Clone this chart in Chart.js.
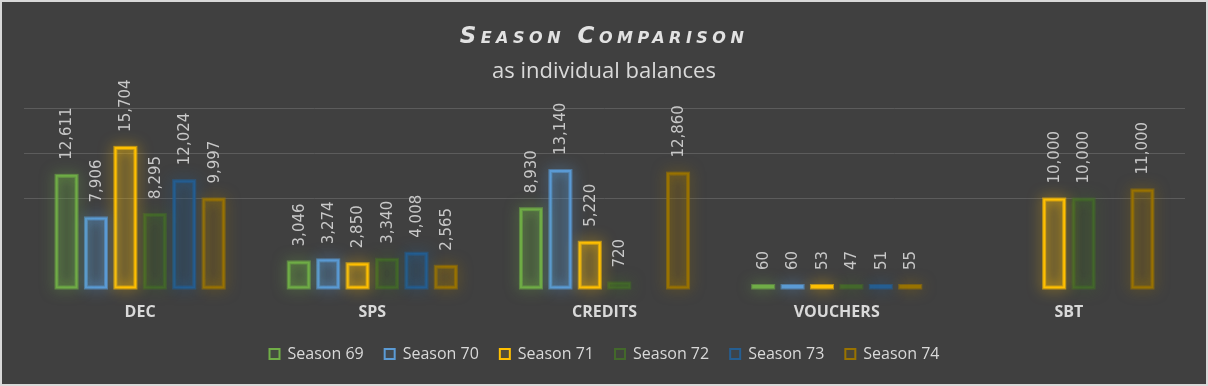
<!DOCTYPE html>
<html>
<head>
<meta charset="utf-8">
<script src="https://cdn.jsdelivr.net/npm/chart.js@4/dist/chart.umd.min.js"></script>
<style>
	body { margin: 0; background: #d9d9d9; }
	#wrap { position: absolute; left: 2px; top: 2px; width: 1204px; height: 382px; background: #404040; }
	#title { position: absolute; left: 0; width: 100%; top: 20px; text-align: center; color: #e2e2e2;
		font: italic bold small-caps 23px "DejaVu Sans"; letter-spacing: 4.5px; }
	#subtitle { position: absolute; left: 0; width: 100%; top: 52px; text-align: center; color: #d9d9d9;
		font: 22px "Open Sans"; }
	canvas { position: absolute; left: 0; top: 0; }
</style>
</head>
<body>
<div id="wrap">
	<canvas id="chart" width="1204" height="382"></canvas>
	<div id="title">Season Comparison</div>
	<div id="subtitle">as individual balances</div>
</div>
<script>
// categories and values per season (null = no bar)
var categories = ["DEC", "SPS", "CREDITS", "VOUCHERS", "SBT"];
var seasonNames = ["Season 69", "Season 70", "Season 71", "Season 72", "Season 73", "Season 74"];
var season69 = [12611, 3046, 8930, 60, null];
var season70 = [7906, 3274, 13140, 60, null];
var season71 = [15704, 2850, 5220, 53, 10000];
var season72 = [8295, 3340, 720, 47, 10000];
var season73 = [12024, 4008, null, 51, null];
var season74 = [9997, 2565, 12860, 55, 11000];
var seasonColors = ["#70AD47", "#5B9BD5", "#FFC000", "#43682B", "#255E91", "#997300"];
var gridValues = [10000, 15000, 20000];

function rgba(hex, a) {
	var n = parseInt(hex.slice(1), 16);
	return "rgba(" + (n >> 16) + "," + ((n >> 8) & 255) + "," + (n & 255) + "," + a + ")";
}

var allSeasons = [season69, season70, season71, season72, season73, season74];
var datasets = allSeasons.map(function (vals, i) {
	return {
		label: seasonNames[i],
		data: vals,
		borderColor: seasonColors[i],
		backgroundColor: rgba(seasonColors[i], 0.1),
		borderWidth: 2,
		borderSkipped: false,
		minBarLength: 4,
		categoryPercentage: 0.76,
		barPercentage: 0.75
	};
});

// soft glow round each bar
var glowPlugin = {
	id: "glow",
	beforeDatasetDraw: function (chart, args) {
		var ctx = chart.ctx;
		var color = seasonColors[args.index];
		ctx.save();
		ctx.shadowColor = rgba(color, 1);
		ctx.shadowBlur = 14;
		ctx.strokeStyle = rgba(color, 0.6);
		ctx.lineWidth = 4;
		args.meta.data.forEach(function (bar, j) {
			if (chart.data.datasets[args.index].data[j] == null) return;
			var p = bar.getProps(["x", "y", "base", "width"], true);
			ctx.strokeRect(p.x - p.width / 2 + 1, p.y + 1, p.width - 2, p.base - p.y - 2);
		});
		ctx.restore();
		ctx.save();
		ctx.shadowColor = rgba(color, 0.9);
		ctx.shadowBlur = 8;
	},
	afterDatasetDraw: function (chart) {
		chart.ctx.restore();
	}
};

// rotated value labels above bars
var labelPlugin = {
	id: "valueLabels",
	afterDatasetsDraw: function (chart) {
		var ctx = chart.ctx;
		ctx.save();
		ctx.fillStyle = "#c8c8c8";
		ctx.font = '15px "DejaVu Sans"';
		ctx.textAlign = "left";
		ctx.textBaseline = "middle";
		chart.data.datasets.forEach(function (ds, i) {
			chart.getDatasetMeta(i).data.forEach(function (bar, j) {
				var v = ds.data[j];
				if (v == null) return;
				var p = bar.getProps(["x", "y"], true);
				ctx.save();
				ctx.translate(p.x + 1, p.y - 15);
				ctx.rotate(-Math.PI / 2);
				ctx.fillText(v.toLocaleString("en-US"), 0, 0);
				ctx.restore();
			});
		});
		ctx.restore();
	}
};

new Chart(document.getElementById("chart"), {
	type: "bar",
	data: { labels: categories, datasets: datasets },
	plugins: [glowPlugin, labelPlugin],
	options: {
		responsive: false,
		devicePixelRatio: 1,
		animation: false,
		layout: { padding: { top: 106, left: 22, right: 21, bottom: 12 } },
		plugins: {
			tooltip: { enabled: false },
			legend: {
				position: "bottom",
				labels: {
					color: "#d9d9d9",
					font: { family: "Open Sans", size: 16 },
					boxWidth: 10,
					boxHeight: 10,
					padding: 21
				}
			}
		},
		scales: {
			x: {
				grid: { display: false, drawTicks: false },
				border: { display: false },
				ticks: {
					color: "#d9d9d9",
					padding: 14,
					font: { family: "Open Sans", size: 16, weight: "bold" }
				},
				afterFit: function (scale) {
					scale.height = 36;
				}
			},
			y: {
				min: 0,
				max: 20000,
				border: { display: false },
				grid: {
					drawTicks: false,
					lineWidth: 1,
					color: function (c) {
						return gridValues.indexOf(c.tick.value) >= 0 ? "#5c5c5c" : "rgba(0,0,0,0)";
					}
				},
				ticks: { display: false, stepSize: 5000 }
			}
		}
	}
});
</script>
</body>
</html>
